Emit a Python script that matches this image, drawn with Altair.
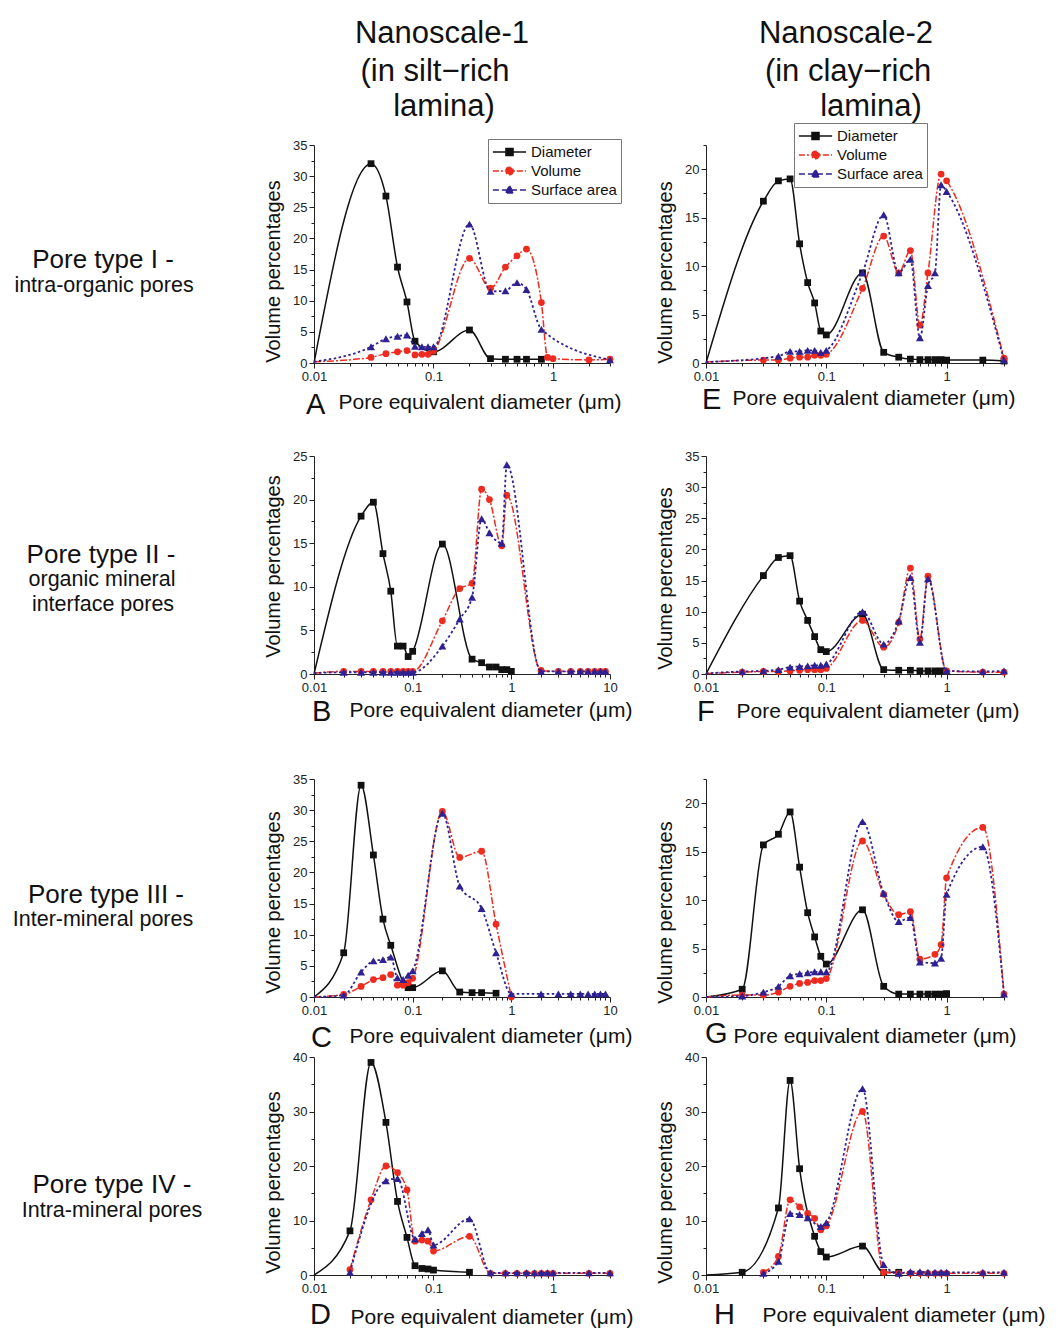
import altair as alt
import pandas as pd

FONT = "Liberation Sans"
INK = "#111111"
NAMES = ["Diameter", "Volume", "Surface area"]
COLORS = ["#111111", "#ee2b1f", "#2e2191"]

XT3 = [0.01, 0.02, 0.03, 0.04, 0.05, 0.06, 0.07, 0.08, 0.09,
       0.1, 0.2, 0.3, 0.4, 0.5, 0.6, 0.7, 0.8, 0.9, 1, 2, 3]
XT10 = XT3 + [4, 5, 6, 7, 8, 9, 10]

# ---------------- Panel A ----------------
A_DIAM_X = [0.01, 0.03, 0.04, 0.05, 0.06, 0.07, 0.1, 0.2, 0.3, 0.4, 0.5, 0.6, 0.8]
A_DIAM_Y = [0, 32.0, 26.8, 15.4, 9.8, 3.5, 1.8, 5.3, 0.7, 0.6, 0.6, 0.6, 0.6]
A_VOL_X = [0.01, 0.03, 0.04, 0.05, 0.06, 0.07, 0.08, 0.09, 0.1, 0.2, 0.3, 0.4, 0.5, 0.6, 0.8, 0.9, 1, 2, 3]
A_VOL_Y = [0.2, 0.9, 1.5, 1.8, 2.0, 1.3, 1.4, 1.4, 1.9, 16.8, 12.0, 15.4, 17.2, 18.3, 9.7, 0.9, 0.7, 0.5, 0.6]
A_SURF_X = [0.01, 0.03, 0.04, 0.05, 0.06, 0.07, 0.08, 0.09, 0.1, 0.2, 0.3, 0.4, 0.5, 0.6, 0.8, 3]
A_SURF_Y = [0.2, 2.6, 3.9, 4.3, 4.5, 2.7, 2.6, 2.6, 2.6, 22.3, 11.5, 11.6, 12.9, 11.8, 5.4, 0.5]

# ---------------- Panel E ----------------
E_DIAM_X = [0.01, 0.03, 0.04, 0.05, 0.06, 0.07, 0.08, 0.09, 0.1, 0.2, 0.3, 0.4, 0.5, 0.6, 0.7, 0.8, 0.9, 1, 2, 3]
E_DIAM_Y = [0, 16.7, 18.8, 19.0, 12.3, 8.3, 6.2, 3.3, 2.9, 9.3, 1.1, 0.6, 0.4, 0.35, 0.35, 0.35, 0.35, 0.3, 0.3, 0.2]
E_VOL_X = [0.01, 0.03, 0.04, 0.05, 0.06, 0.07, 0.08, 0.09, 0.1, 0.2, 0.3, 0.4, 0.5, 0.6, 0.7, 0.9, 1, 3]
E_VOL_Y = [0.1, 0.3, 0.3, 0.5, 0.6, 0.6, 0.8, 0.8, 0.9, 7.7, 13.1, 9.3, 11.6, 3.9, 9.3, 19.5, 18.8, 0.5]
E_SURF_X = [0.01, 0.04, 0.05, 0.06, 0.07, 0.08, 0.09, 0.1, 0.2, 0.3, 0.4, 0.5, 0.6, 0.7, 0.8, 0.9, 1, 3]
E_SURF_Y = [0.1, 0.7, 1.2, 1.2, 1.3, 1.3, 1.1, 1.3, 9.3, 15.3, 9.3, 10.7, 2.6, 8.0, 9.3, 18.4, 17.7, 0.3]

# ---------------- Panel B ----------------
B_DIAM_X = [0.01, 0.03, 0.04, 0.05, 0.06, 0.07, 0.08, 0.09, 0.1, 0.2, 0.4, 0.5, 0.6, 0.7, 0.8, 0.9, 1]
B_DIAM_Y = [0, 18.1, 19.7, 13.8, 9.5, 3.2, 3.2, 2.0, 2.6, 14.9, 1.7, 1.3, 0.8, 0.8, 0.5, 0.5, 0.3]
B_VOL_X = [0.01, 0.02, 0.03, 0.04, 0.05, 0.06, 0.07, 0.08, 0.09, 0.1, 0.2, 0.3, 0.4, 0.5, 0.6, 0.8, 0.9,
           2, 3, 4, 5, 6, 7, 8, 9]
B_VOL_Y = [0.1, 0.3, 0.3, 0.3, 0.3, 0.3, 0.3, 0.3, 0.3, 0.3, 6.1, 9.8, 10.4, 21.2, 20.0, 14.7, 20.5,
           0.4, 0.3, 0.3, 0.3, 0.3, 0.3, 0.3, 0.3]
B_SURF_X = [0.01, 0.02, 0.03, 0.04, 0.05, 0.06, 0.07, 0.08, 0.09, 0.1, 0.2, 0.3, 0.4, 0.5, 0.6, 0.8, 0.9,
            2, 3, 4, 5, 6, 7, 8, 9]
B_SURF_Y = [0.1, 0.2, 0.2, 0.2, 0.2, 0.2, 0.2, 0.2, 0.2, 0.2, 3.2, 6.3, 8.8, 17.8, 16.2, 15.0, 24.0,
            0.3, 0.3, 0.3, 0.3, 0.3, 0.3, 0.3, 0.3]

# ---------------- Panel F ----------------
F_DIAM_X = [0.01, 0.03, 0.04, 0.05, 0.06, 0.07, 0.08, 0.09, 0.1, 0.2, 0.3, 0.4, 0.5, 0.6, 0.7, 0.8, 0.9]
F_DIAM_Y = [0, 15.8, 18.7, 19.0, 11.7, 8.6, 6.0, 3.9, 3.6, 9.6, 0.7, 0.6, 0.6, 0.5, 0.5, 0.5, 0.5]
F_VOL_X = [0.01, 0.02, 0.03, 0.04, 0.05, 0.06, 0.07, 0.08, 0.09, 0.1, 0.2, 0.3, 0.4, 0.5, 0.6, 0.7, 1, 2, 3]
F_VOL_Y = [0.1, 0.3, 0.4, 0.4, 0.5, 0.6, 0.7, 0.7, 0.7, 0.9, 8.6, 4.3, 8.3, 17.0, 5.6, 15.7, 0.5, 0.3, 0.3]
F_SURF_X = [0.01, 0.02, 0.03, 0.04, 0.05, 0.06, 0.07, 0.08, 0.09, 0.1, 0.2, 0.3, 0.4, 0.5, 0.6, 0.7, 1, 2, 3]
F_SURF_Y = [0.1, 0.4, 0.5, 0.7, 1.1, 1.2, 1.3, 1.4, 1.4, 1.6, 10.0, 4.8, 8.5, 15.5, 5.1, 15.3, 0.5, 0.4, 0.5]

# ---------------- Panel C ----------------
C_DIAM_X = [0.01, 0.02, 0.03, 0.04, 0.05, 0.06, 0.09, 0.1, 0.2, 0.3, 0.4, 0.5, 0.7]
C_DIAM_Y = [0, 7.1, 34.0, 22.8, 12.5, 8.3, 1.5, 1.5, 4.2, 0.8, 0.7, 0.7, 0.6]
C_VOL_X = [0.01, 0.02, 0.03, 0.04, 0.05, 0.06, 0.07, 0.08, 0.09, 0.1, 0.2, 0.3, 0.5, 0.7, 1]
C_VOL_Y = [0, 0.4, 1.7, 2.8, 3.1, 3.6, 1.9, 1.9, 2.3, 3.0, 29.8, 22.4, 23.4, 11.7, 0]
C_SURF_X = [0.01, 0.02, 0.03, 0.04, 0.05, 0.06, 0.07, 0.08, 0.09, 0.1, 0.2, 0.3, 0.5, 0.7,
            1, 2, 3, 4, 5, 6, 7, 8, 9]
C_SURF_Y = [0, 0.3, 4.0, 5.8, 6.0, 6.4, 3.1, 2.8, 3.5, 4.2, 29.5, 17.8, 14.2, 7.1,
            0.5, 0.5, 0.5, 0.5, 0.5, 0.5, 0.5, 0.5, 0.5]

# ---------------- Panel G ----------------
G_DIAM_X = [0.01, 0.02, 0.03, 0.04, 0.05, 0.06, 0.07, 0.08, 0.09, 0.1, 0.2, 0.3, 0.4, 0.5, 0.6, 0.7, 0.8, 0.9, 1]
G_DIAM_Y = [0, 0.8, 15.7, 16.8, 19.1, 13.4, 8.7, 6.2, 4.2, 3.4, 9.0, 1.1, 0.3, 0.3, 0.3, 0.3, 0.3, 0.3, 0.35]
G_VOL_X = [0.01, 0.02, 0.03, 0.04, 0.05, 0.06, 0.07, 0.08, 0.09, 0.1, 0.2, 0.3, 0.4, 0.5, 0.6, 0.8, 0.9, 1, 2, 3]
G_VOL_Y = [0, 0.2, 0.2, 0.5, 1.1, 1.4, 1.5, 1.7, 1.7, 1.9, 16.1, 10.6, 8.5, 8.8, 3.9, 4.4, 5.4, 12.3, 17.5, 0.3]
G_SURF_X = [0.01, 0.02, 0.03, 0.04, 0.05, 0.06, 0.07, 0.08, 0.09, 0.1, 0.2, 0.3, 0.4, 0.5, 0.6, 0.8, 0.9, 1, 2, 3]
G_SURF_Y = [0, 0.1, 0.5, 1.1, 2.2, 2.4, 2.5, 2.6, 2.6, 2.6, 18.1, 10.7, 7.8, 8.2, 3.6, 3.5, 4.0, 10.6, 15.5, 0.3]

# ---------------- Panel D ----------------
D_DIAM_X = [0.01, 0.02, 0.03, 0.04, 0.05, 0.06, 0.07, 0.08, 0.09, 0.1, 0.2]
D_DIAM_Y = [0, 8.1, 39.0, 28.0, 13.5, 6.9, 1.7, 1.2, 1.1, 0.9, 0.5]
D_VOL_X = [0.02, 0.03, 0.04, 0.05, 0.06, 0.07, 0.08, 0.09, 0.1, 0.2, 0.3, 0.4, 0.5, 0.6, 0.7, 0.8, 0.9, 1, 2, 3]
D_VOL_Y = [1.0, 13.8, 20.0, 18.8, 15.6, 6.2, 6.4, 6.2, 4.4, 7.1, 0.3, 0.3, 0.3, 0.3, 0.3, 0.3, 0.3, 0.3, 0.3, 0.3]
D_SURF_X = [0.02, 0.04, 0.05, 0.07, 0.08, 0.09, 0.1, 0.2, 0.3, 0.4, 0.5, 0.6, 0.7, 0.8, 0.9, 1, 2, 3]
D_SURF_Y = [0.5, 17.3, 17.7, 6.6, 7.6, 8.3, 5.5, 10.3, 0.4, 0.4, 0.4, 0.4, 0.4, 0.4, 0.4, 0.4, 0.4, 0.4]

# ---------------- Panel H ----------------
H_DIAM_X = [0.01, 0.02, 0.04, 0.05, 0.06, 0.08, 0.09, 0.1, 0.2, 0.3, 0.4]
H_DIAM_Y = [0, 0.5, 12.3, 35.7, 19.5, 7.1, 4.3, 3.3, 5.3, 0.5, 0.5]
H_VOL_X = [0.03, 0.04, 0.05, 0.06, 0.07, 0.08, 0.09, 0.1, 0.2, 0.3, 0.4, 0.5, 0.6, 0.7, 0.8, 0.9, 1, 2, 3]
H_VOL_Y = [0.5, 3.4, 13.8, 12.5, 11.3, 10.4, 8.3, 9.0, 30.0, 0.5, 0.3, 0.3, 0.3, 0.3, 0.3, 0.3, 0.3, 0.3, 0.3]
H_SURF_X = [0.03, 0.04, 0.05, 0.06, 0.07, 0.09, 0.1, 0.2, 0.3, 0.4, 0.5, 0.6, 0.7, 0.8, 0.9, 1, 2, 3]
H_SURF_Y = [0.3, 2.5, 11.3, 11.1, 10.5, 8.9, 9.6, 34.2, 1.9, 0.3, 0.6, 0.6, 0.5, 0.5, 0.5, 0.5, 0.5, 0.5]

# text
COL_TITLES = [["Nanoscale-1", "(in silt\u2212rich", "lamina)"],
              ["Nanoscale-2", "(in clay\u2212rich", "lamina)"]]
ROW_LABELS = [["Pore type I -", "intra-organic  pores"],
              ["Pore type II -", "organic mineral", "interface pores"],
              ["Pore type III -", "Inter-mineral pores"],
              ["Pore type IV -", "Intra-mineral pores"]]
X_TITLE = "Pore equivalent diameter (\u03bcm)"
Y_TITLE = "Volume percentages"

PH = 218          # plot height
WL, W1, W2 = 209, 296, 298

PANELS = {
    "A": dict(d=[(A_DIAM_X, A_DIAM_Y), (A_VOL_X, A_VOL_Y), (A_SURF_X, A_SURF_Y)],
              xmax=3, ymax=35, ystep=2.5, ylab=5, w=W1, tx=24, ty=45, lx=-8, ly=51, yt=17, leg=(174, -6)),
    "E": dict(d=[(E_DIAM_X, E_DIAM_Y), (E_VOL_X, E_VOL_Y), (E_SURF_X, E_SURF_Y)],
              xmax=3, ymax=22.5, ystep=2.5, ylab=5, w=W2, tx=26, ty=41, lx=-4, ly=46, yt=18, leg=(88, -22)),
    "B": dict(d=[(B_DIAM_X, B_DIAM_Y), (B_VOL_X, B_VOL_Y), (B_SURF_X, B_SURF_Y)],
              xmax=10, ymax=25, ystep=2.5, ylab=5, w=W1, tx=35, ty=42, lx=-2, ly=47, yt=1, leg=None),
    "F": dict(d=[(F_DIAM_X, F_DIAM_Y), (F_VOL_X, F_VOL_Y), (F_SURF_X, F_SURF_Y)],
              xmax=3, ymax=35, ystep=2.5, ylab=5, w=W2, tx=30, ty=43, lx=-9, ly=47, yt=13, leg=None),
    "C": dict(d=[(C_DIAM_X, C_DIAM_Y), (C_VOL_X, C_VOL_Y), (C_SURF_X, C_SURF_Y)],
              xmax=10, ymax=35, ystep=2.5, ylab=5, w=W1, tx=35, ty=45, lx=-3, ly=50, yt=14, leg=None),
    "G": dict(d=[(G_DIAM_X, G_DIAM_Y), (G_VOL_X, G_VOL_Y), (G_SURF_X, G_SURF_Y)],
              xmax=3, ymax=22.5, ystep=2.5, ylab=5, w=W2, tx=27, ty=45, lx=-1, ly=46, yt=24, leg=None),
    "D": dict(d=[(D_DIAM_X, D_DIAM_Y), (D_VOL_X, D_VOL_Y), (D_SURF_X, D_SURF_Y)],
              xmax=3, ymax=40, ystep=5, ylab=10, w=W1, tx=36, ty=48, lx=-4, ly=49, yt=16, leg=None),
    "H": dict(d=[(H_DIAM_X, H_DIAM_Y), (H_VOL_X, H_VOL_Y), (H_SURF_X, H_SURF_Y)],
              xmax=3, ymax=40, ystep=5, ylab=10, w=W2, tx=56, ty=46, lx=8, ly=49, yt=26, leg=None),
}

STYLES = [
    dict(line=dict(strokeWidth=1.5), point=dict(shape="square", size=46)),
    dict(line=dict(strokeWidth=1.5, strokeDash=[7, 2, 2, 2]), point=dict(shape="circle", size=46)),
    dict(line=dict(strokeWidth=1.8, strokeDash=[2.5, 2.5]), point=dict(shape="triangle-up", size=64)),
]
LEGEND_PATHS = [
    "M-1,0H1M-0.21,-0.21H0.21V0.21H-0.21Z",
    "M-1,0H1M0.22,0A0.22,0.22,0,1,1,-0.22,0A0.22,0.22,0,1,1,0.22,0Z",
    "M-1,0H1M0,-0.25L0.25,0.18L-0.25,0.18Z",
]
LEGEND_DASH = [[1, 0], [6, 2, 2, 2], [6, 3]]

POW10 = "abs(log(datum.value)/LN10 - round(log(datum.value)/LN10)) < 0.001"


def panel(letter):
    c = PANELS[letter]
    rows = []
    for name, (xs, ys) in zip(NAMES, c["d"]):
        for x, y in zip(xs, ys):
            rows.append({"series": name, "x": x, "y": y, "mk": x > 0.0101})
    df = pd.DataFrame(rows)
    W = c["w"]
    xticks = XT10 if c["xmax"] == 10 else XT3
    nyt = int(round(c["ymax"] / c["ystep"]))
    yticks = [round(i * c["ystep"], 2) for i in range(nyt + 1)]

    xaxis = alt.Axis(
        values=xticks, format="~g", labelExpr=f"{POW10} ? datum.label : ''",
        labelFlush=False, labelOverlap=False, labelFont=FONT, labelFontSize=13, labelColor="#222",
        tickSize={"condition": {"test": POW10, "value": 5}, "value": 3},
        tickColor="#222", domainColor="#222", grid=False,
        title=X_TITLE, titleFont=FONT, titleFontSize=21, titleFontWeight="normal", titleColor=INK,
        titleAlign="left", titleBaseline="alphabetic", titleX=c["tx"], titleY=c["ty"],
    )
    ytest = f"datum.value % {c['ylab']} == 0"
    yaxis = alt.Axis(
        values=yticks, labelExpr=f"{ytest} ? datum.label : ''",
        labelFlush=False, labelOverlap=False, labelFont=FONT, labelFontSize=13, labelColor="#222",
        tickSize={"condition": {"test": ytest, "value": 5}, "value": 3},
        tickColor="#222", domainColor="#222", grid=False,
        title=Y_TITLE, titleFont=FONT, titleFontSize=20, titleFontWeight="normal", titleColor=INK,
        titleAlign="center", titleBaseline="middle", titleX=-41, titleY=PH / 2 + c["yt"],
    )
    X = alt.X("x:Q", scale=alt.Scale(type="log", domain=[0.01, c["xmax"]], nice=False), axis=xaxis)
    Y = alt.Y("y:Q", scale=alt.Scale(domain=[0, c["ymax"]], nice=False), axis=yaxis)

    base = alt.Chart(df)
    layers = []
    for name, color, st in zip(NAMES, COLORS, STYLES):
        layers.append(
            base.transform_filter(f"datum.series == '{name}'")
            .mark_line(color=color, interpolate="monotone", **st["line"])
            .encode(x=X, y=Y)
        )
        layers.append(
            base.transform_filter(f"datum.series == '{name}' && datum.mk")
            .mark_point(filled=True, color=color, opacity=1, **st["point"])
            .encode(x=X, y=Y)
        )
    if c["leg"] is not None:
        lg = alt.Legend(
            title=None, orient="none", legendX=c["leg"][0], legendY=c["leg"][1],
            symbolSize=1100, clipHeight=18, rowPadding=1, symbolStrokeWidth=1.6,
            labelFont=FONT, labelFontSize=15, labelColor=INK, labelOffset=4,
            padding=4, strokeColor="#777777", fillColor="white",
        )
        layers.append(
            base.transform_filter("datum.x < 0")
            .mark_point(filled=True, opacity=1, strokeWidth=1.6)
            .encode(
                x=X, y=Y,
                fill=alt.Fill("series:N", scale=alt.Scale(domain=NAMES, range=COLORS), legend=lg),
                stroke=alt.Stroke("series:N", scale=alt.Scale(domain=NAMES, range=COLORS), legend=lg),
                shape=alt.Shape("series:N", scale=alt.Scale(domain=NAMES, range=LEGEND_PATHS), legend=lg),
                strokeDash=alt.StrokeDash("series:N", scale=alt.Scale(domain=NAMES, range=LEGEND_DASH), legend=lg),
            )
        )
    layers.append(
        alt.Chart(pd.DataFrame({"t": [letter]}))
        .mark_text(font=FONT, fontSize=29, align="left", baseline="alphabetic", color=INK)
        .encode(text="t:N", x=alt.value(c["lx"]), y=alt.value(PH + c["ly"]))
    )
    return alt.layer(*layers).properties(width=W, height=PH)


def text_block(lines, width, height):
    layers = []
    for (txt, x, y, size) in lines:
        layers.append(
            alt.Chart(pd.DataFrame({"t": [txt]}))
            .mark_text(font=FONT, fontSize=size, align="center", baseline="alphabetic", color=INK)
            .encode(text="t:N", x=alt.value(x), y=alt.value(y))
        )
    return alt.layer(*layers).properties(width=width, height=height)


HEAD_H = 71
header_blank = text_block([("", 10, 10, 10)], WL, HEAD_H)
header_left = text_block([(COL_TITLES[0][0], 128, 29, 31), (COL_TITLES[0][1], 121, 67, 31),
                          (COL_TITLES[0][2], 130, 102, 31)], W1, HEAD_H)
header_right = text_block([(COL_TITLES[1][0], 140, 29, 31), (COL_TITLES[1][1], 142, 67, 31),
                           (COL_TITLES[1][2], 165, 102, 31)], W2, HEAD_H)

row1 = text_block([(ROW_LABELS[0][0], 94, 123, 26), (ROW_LABELS[0][1], 95, 147, 21.5)], WL, 251)
row2 = text_block([(ROW_LABELS[1][0], 92, 107, 26), (ROW_LABELS[1][1], 93, 130, 21.5),
                   (ROW_LABELS[1][2], 94, 155, 21.5)], WL, 263)
row3 = text_block([(ROW_LABELS[2][0], 97, 124, 26), (ROW_LABELS[2][1], 94, 147, 21.5)], WL, PH)
row4 = text_block([(ROW_LABELS[3][0], 103, 136, 26), (ROW_LABELS[3][1], 103, 160, 21.5)], WL, PH)

chart = alt.concat(
    header_blank, header_left, header_right,
    row1, panel("A"), panel("E"),
    row2, panel("B"), panel("F"),
    row3, panel("C"), panel("G"),
    row4, panel("D"), panel("H"),
    columns=3, align="each", bounds="flush", spacing={"row": 60, "column": 96},
).resolve_scale(
    fill="independent", stroke="independent", shape="independent", strokeDash="independent"
).resolve_legend(
    fill="independent", stroke="independent", shape="independent", strokeDash="independent"
).properties(
    padding={"left": 0, "top": 5, "right": 0, "bottom": 0}
).configure_view(stroke="transparent")

chart.save("out.html", embed_options={"renderer": "svg", "actions": False})
